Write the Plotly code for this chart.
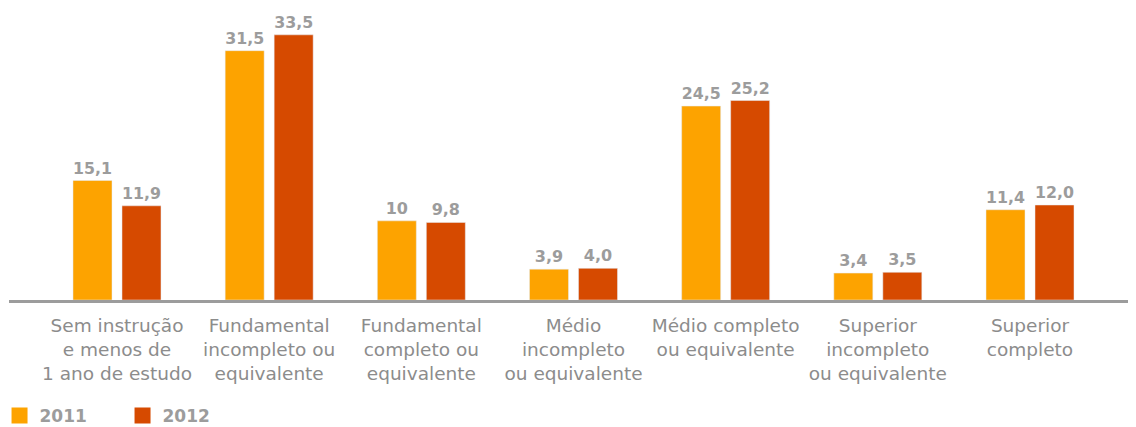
import plotly.graph_objects as go

categories = [
    "Sem instrução<br>e menos de<br>1 ano de estudo",
    "Fundamental<br>incompleto ou<br>equivalente",
    "Fundamental<br>completo ou<br>equivalente",
    "Médio<br>incompleto<br>ou equivalente",
    "Médio completo<br>ou equivalente",
    "Superior<br>incompleto<br>ou equivalente",
    "Superior<br>completo",
]
values_2011 = [15.1, 31.5, 10, 3.9, 24.5, 3.4, 11.4]
labels_2011 = ["15,1", "31,5", "10", "3,9", "24,5", "3,4", "11,4"]
values_2012 = [11.9, 33.5, 9.8, 4.0, 25.2, 3.5, 12.0]
labels_2012 = ["11,9", "33,5", "9,8", "4,0", "25,2", "3,5", "12,0"]

ORANGE = "#FDA300"
RED = "#D64A00"
GRAY_VAL = "#9c9c9c"
GRAY_TXT = "#8c8c8c"

idx = list(range(len(categories)))

fig = go.Figure()
fig.add_trace(go.Bar(
    x=idx, y=values_2011, name="2011", marker_color=ORANGE,
    text=labels_2011, textposition="outside", cliponaxis=False,
    textfont=dict(family="DejaVu Sans", size=16, color=GRAY_VAL, weight="bold"),
    showlegend=False,
))
fig.add_trace(go.Bar(
    x=idx, y=values_2012, name="2012", marker_color=RED,
    text=labels_2012, textposition="outside", cliponaxis=False,
    textfont=dict(family="DejaVu Sans", size=16, color=GRAY_VAL, weight="bold"),
    showlegend=False,
))
# legend entries
for nm, col in [("2011", ORANGE), ("2012", RED)]:
    fig.add_trace(go.Scatter(
        x=[None], y=[None], mode="markers", name=nm,
        marker=dict(symbol="square", size=16, color=col),
        showlegend=True,
    ))

fig.update_layout(
    width=1128, height=419,
    margin=dict(l=1, r=0, t=0, b=127, autoexpand=False),
    paper_bgcolor="white", plot_bgcolor="white",
    barmode="group", bargap=0.356, bargroupgap=0.204,
    showlegend=True,
    legend=dict(
        orientation="h", x=-0.0084, xanchor="left", y=-0.3973, yanchor="middle",
        font=dict(family="DejaVu Sans", size=17, color=GRAY_VAL, weight="bold"),
        itemsizing="trace", entrywidth=78, entrywidthmode="pixels",
        bgcolor="rgba(0,0,0,0)",
    ),
    xaxis=dict(
        range=[-0.7097, 6.6966], tickmode="array", tickvals=idx, ticktext=categories,
        showline=True, linecolor="#9c9c9c", linewidth=2.5,
        showgrid=False, zeroline=False, ticks="", ticklabelstandoff=7,
        tickfont=dict(family="DejaVu Sans", size=18.5, color=GRAY_TXT),
    ),
    yaxis=dict(range=[0, 36.89], visible=False),
)

fig.write_html("out.html")
